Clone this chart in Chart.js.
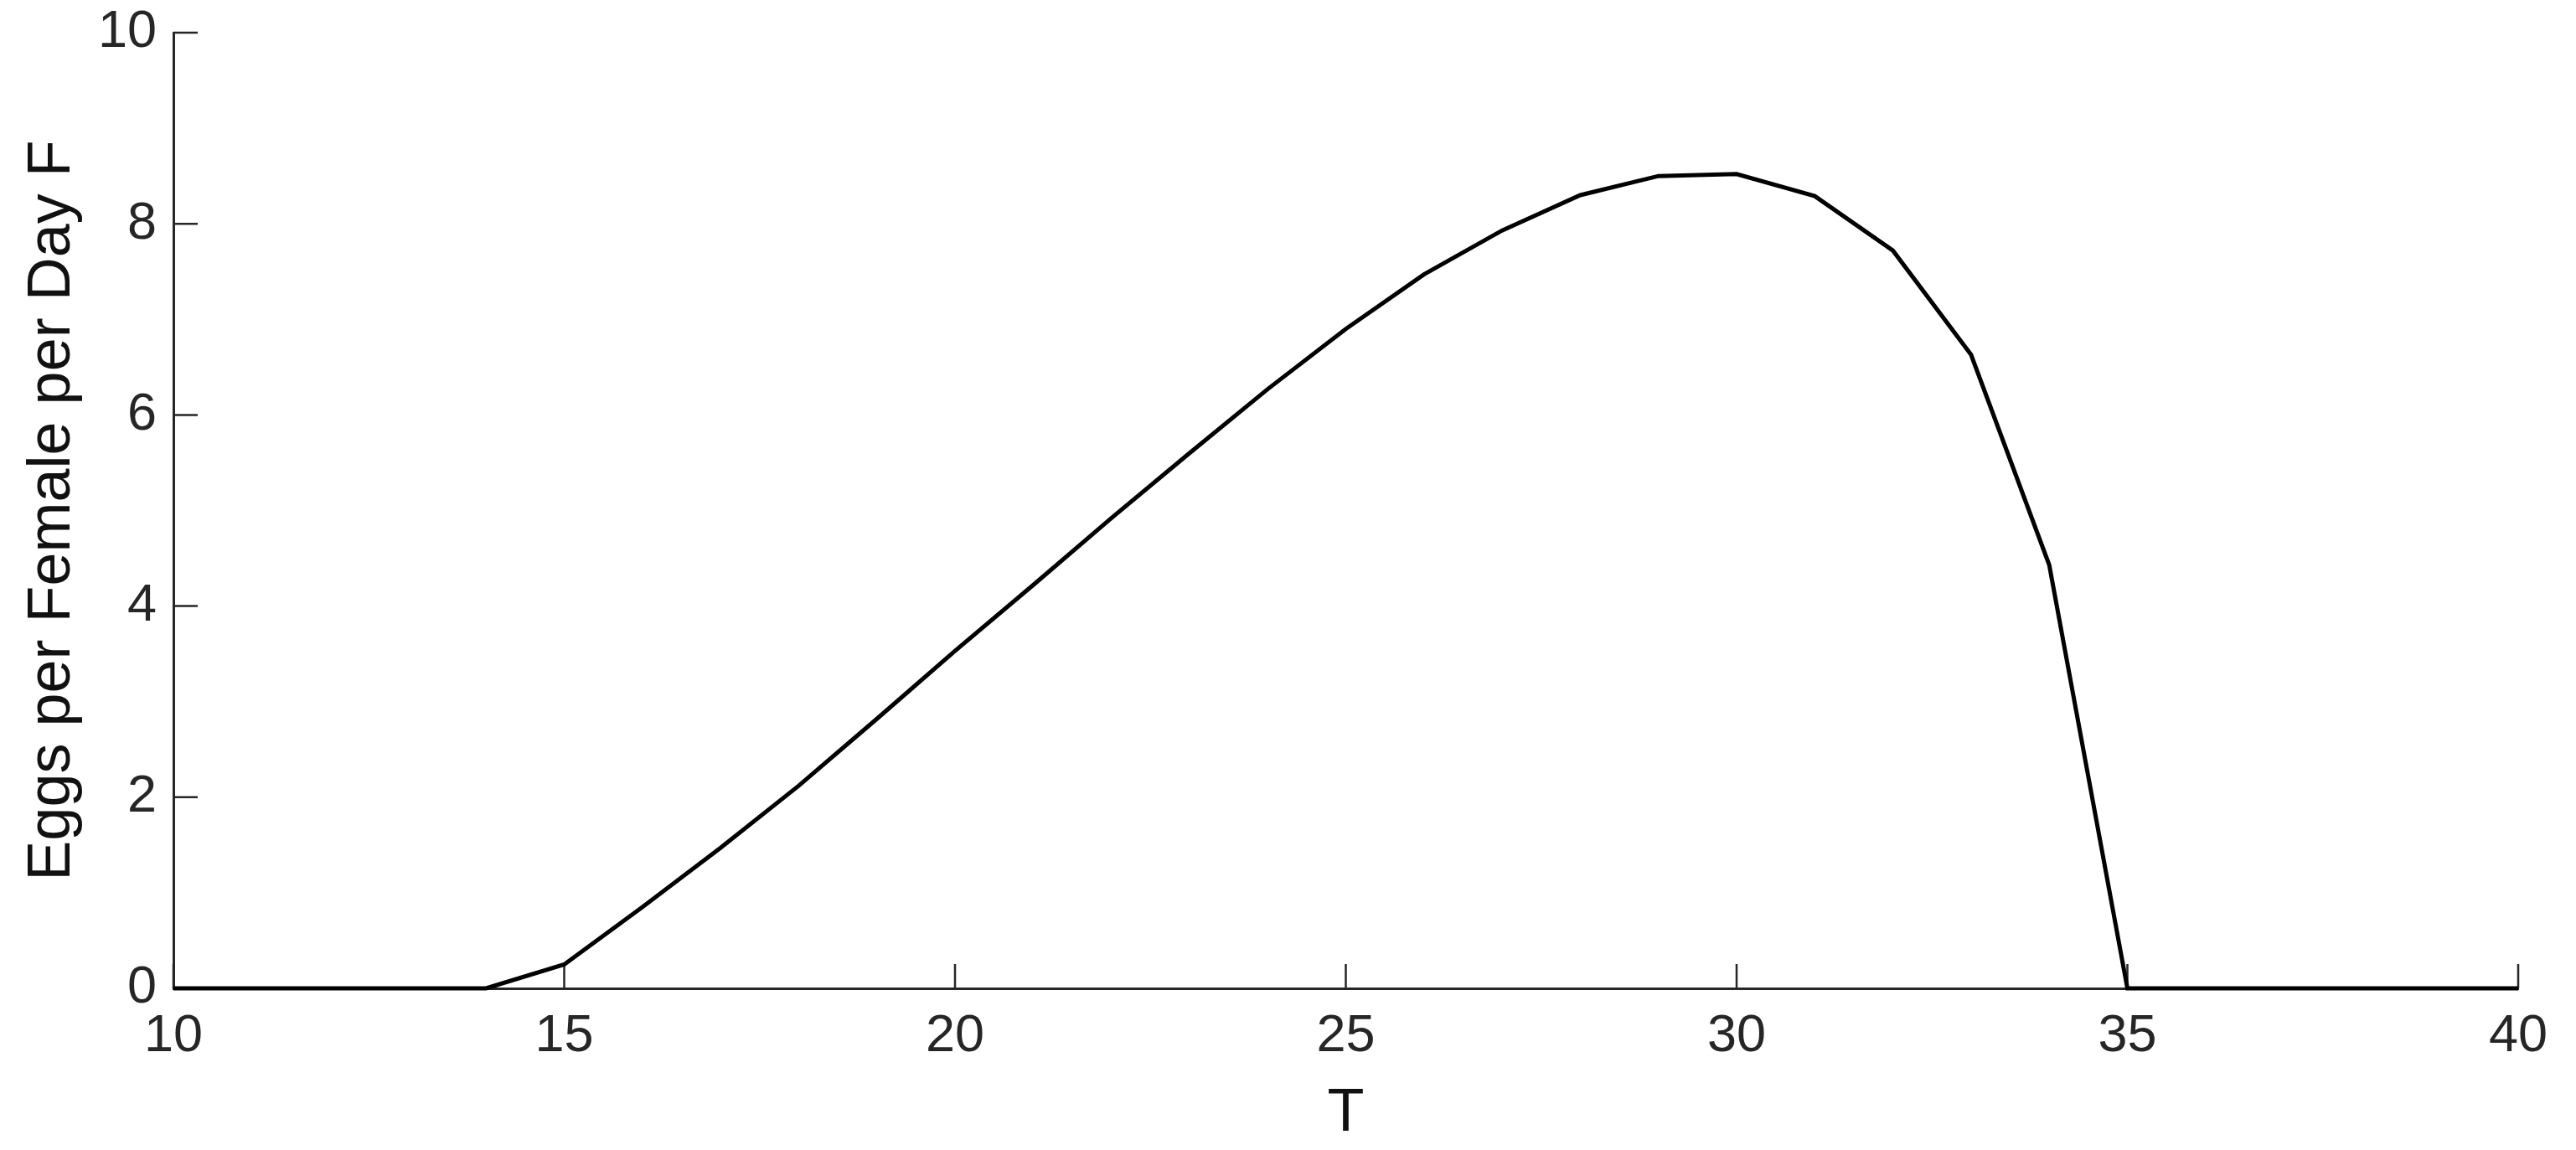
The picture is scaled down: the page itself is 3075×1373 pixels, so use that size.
<!DOCTYPE html>
<html>
<head>
<meta charset="utf-8">
<title>Eggs per Female per Day F</title>
<script src="https://cdn.jsdelivr.net/npm/chart.js@4/dist/chart.umd.min.js"></script>
<style>
	html, body { margin: 0; padding: 0; background: #fff; }
	#wrap { width: 3075px; height: 1373px; }
</style>
</head>
<body>
<div id="wrap"><canvas id="eggsChart"></canvas></div>
<script>

// temperature T
let temps = [10, 11, 12, 13, 14, 15, 16, 17, 18, 19, 20, 21, 22, 23, 24, 25,
	26, 27, 28, 29, 30, 31, 32, 33, 34, 35, 36, 37, 38, 39, 40];

// eggs per female per day F
let eggs = [0, 0, 0, 0, 0, 0.25, 0.85, 1.47, 2.12, 2.82, 3.53, 4.22, 4.92, 5.6, 6.27, 6.9,
	7.47, 7.93, 8.3, 8.5, 8.52, 8.29, 7.72, 6.63, 4.43, 0, 0, 0, 0, 0, 0];

let xTicks = [10, 15, 20, 25, 30, 35, 40];
let yTicks = [0, 2, 4, 6, 8, 10];

let axisColor = '#262626';
let fontFamily = '"Liberation Sans", Arial, Helvetica, sans-serif';

// matlab style ticks that point into the plot
let inwardTicks = {
	id: 'inwardTicks',
	beforeDatasetsDraw(chart) {
		let ctx = chart.ctx;
		let area = chart.chartArea;
		let xScale = chart.scales.x;
		let yScale = chart.scales.y;
		ctx.save();
		ctx.strokeStyle = axisColor;
		ctx.lineWidth = 2.5;
		ctx.beginPath();
		xScale.ticks.forEach(function(t) {
			let px = xScale.getPixelForValue(t.value);
			ctx.moveTo(px, area.bottom);
			ctx.lineTo(px, area.bottom - 29);
		});
		yScale.ticks.forEach(function(t) {
			let py = yScale.getPixelForValue(t.value);
			ctx.moveTo(area.left, py);
			ctx.lineTo(area.left + 29, py);
		});
		ctx.stroke();
		ctx.restore();
	}
};

function addEggsChart() {

	let points = temps.map(function(t, i) {
		return { x: t, y: eggs[i] };
	});

	let ctx = document.getElementById('eggsChart').getContext('2d');
	let eggsChart = new Chart(ctx, {
		type: 'line',
		data: {
			datasets: [{
				data: points,
				borderColor: '#000000',
				borderWidth: 5,
				pointRadius: 0,
				tension: 0,
				fill: false,
				clip: false,
			}],
		},
		options: {
			responsive: true,
			maintainAspectRatio: false,
			animation: false,
			devicePixelRatio: 1,
			layout: {
				padding: { left: 0, right: 69, top: 39, bottom: 0 },
			},
			plugins: {
				legend: { display: false },
				tooltip: { enabled: false },
			},
			scales: {
				x: {
					type: 'linear',
					min: 10,
					max: 40,
					afterBuildTicks: function(scale) {
						scale.ticks = xTicks.map(function(v) { return { value: v }; });
					},
					afterFit: function(scale) {
						scale.height = 193;
						scale.paddingLeft = 0;
						scale.paddingRight = 0;
					},
					grid: { display: false, drawTicks: false },
					border: { display: true, color: axisColor, width: 3 },
					ticks: {
						color: axisColor,
						padding: 20,
						maxRotation: 0,
						font: { family: fontFamily, size: 63 },
					},
					title: {
						display: true,
						text: 'T',
						color: '#111111',
						padding: { top: 0, bottom: 0 },
						font: { family: fontFamily, size: 72 },
					},
				},
				y: {
					type: 'linear',
					min: 0,
					max: 10,
					afterBuildTicks: function(scale) {
						scale.ticks = yTicks.map(function(v) { return { value: v }; });
					},
					afterFit: function(scale) {
						scale.width = 207;
						scale.paddingTop = 0;
						scale.paddingBottom = 0;
					},
					grid: { display: false, drawTicks: false },
					border: { display: true, color: axisColor, width: 3 },
					ticks: {
						color: axisColor,
						padding: 20,
						font: { family: fontFamily, size: 63 },
					},
					title: {
						display: true,
						text: 'Eggs per Female per Day F',
						color: '#111111',
						padding: { top: 20, bottom: 0 },
						font: { family: fontFamily, size: 72 },
					},
				},
			},
		},
		plugins: [inwardTicks],
	});

}

addEggsChart();

</script>
</body>
</html>
